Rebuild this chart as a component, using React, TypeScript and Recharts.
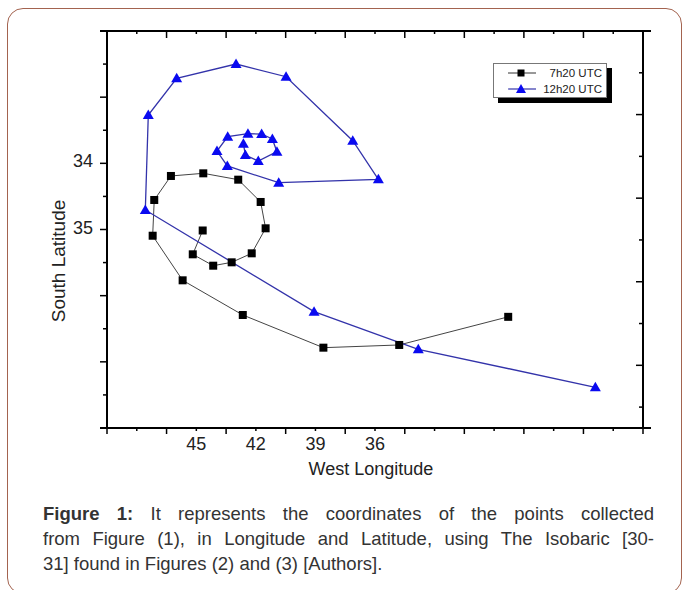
import { LineChart, Line, XAxis, YAxis } from "recharts";

const FONT = '"Liberation Sans", Arial, Helvetica, sans-serif';

// axis ticks (longitude runs right-to-left, latitude top-to-bottom)
const lonTicks = [49.5, 48, 46.5, 45, 43.5, 42, 40.5, 39, 37.5, 36, 34.5, 33, 31.5, 30, 28.5, 27, 25.5, 24, 22.5];
const lonLabels = [45, 42, 39, 36];
const latTicks = [32, 32.5, 33, 33.5, 34, 34.5, 35, 35.5, 36, 36.5, 37, 37.5, 38];
const latLabels = [34, 35];
const rightTicks = [1, 2, 3, 4, 5, 6, 7, 8, 9];

// 7h20 UTC track
const utc0720 = [
  { lon: 29.29, lat: 36.32 },
  { lon: 34.78, lat: 36.745 },
  { lon: 38.6, lat: 36.786 },
  { lon: 42.66, lat: 36.292 },
  { lon: 45.69, lat: 35.768 },
  { lon: 47.2, lat: 35.094 },
  { lon: 47.12, lat: 34.554 },
  { lon: 46.28, lat: 34.191 },
  { lon: 44.65, lat: 34.151 },
  { lon: 42.89, lat: 34.247 },
  { lon: 41.76, lat: 34.584 },
  { lon: 41.51, lat: 34.982 },
  { lon: 42.21, lat: 35.36 },
  { lon: 43.22, lat: 35.496 },
  { lon: 44.15, lat: 35.547 },
  { lon: 45.18, lat: 35.375 },
  { lon: 44.68, lat: 35.015 },
];

// 12h20 UTC track
const utc1220 = [
  { lon: 24.9, lat: 37.385 },
  { lon: 33.82, lat: 36.81 },
  { lon: 39.07, lat: 36.242 },
  { lon: 47.57, lat: 34.705 },
  { lon: 47.42, lat: 33.27 },
  { lon: 45.99, lat: 32.715 },
  { lon: 43.0, lat: 32.499 },
  { lon: 40.48, lat: 32.691 },
  { lon: 37.12, lat: 33.658 },
  { lon: 35.83, lat: 34.241 },
  { lon: 40.85, lat: 34.293 },
  { lon: 43.44, lat: 34.04 },
  { lon: 43.96, lat: 33.814 },
  { lon: 43.42, lat: 33.597 },
  { lon: 42.4, lat: 33.552 },
  { lon: 41.71, lat: 33.557 },
  { lon: 41.17, lat: 33.632 },
  { lon: 40.94, lat: 33.824 },
  { lon: 41.88, lat: 33.965 },
  { lon: 42.53, lat: 33.874 },
  { lon: 42.63, lat: 33.703 },
];

const isMajorLon = (v: number) => Math.abs(((49.5 - v) / 3) % 1) < 1e-6;

function BottomTick(p: any) {
  const { x, y, payload } = p;
  const v = payload.value;
  return (
    <g>
      <line x1={x} x2={x} y1={y} y2={y + (isMajorLon(v) ? 6 : 3)} stroke="#000" strokeWidth={1.5} />
      {v === 49.5 && <line x1={x - 7} x2={x} y1={y} y2={y} stroke="#000" strokeWidth={2} />}
      {v === 22.5 && <line x1={x} x2={x + 8} y1={y} y2={y} stroke="#000" strokeWidth={2} />}
      {lonLabels.includes(v) && (
        <text x={x} y={y + 22} textAnchor="middle" fontSize={18} fill="#222" fontFamily={FONT}>
          {v}
        </text>
      )}
    </g>
  );
}

function TopTick(p: any) {
  const { x, y, payload } = p;
  const v = payload.value;
  return (
    <g>
      <line x1={x} x2={x} y1={y} y2={y + (isMajorLon(v) ? 7 : 3)} stroke="#000" strokeWidth={1.5} />
      {v === 49.5 && <line x1={x - 7} x2={x} y1={y} y2={y} stroke="#000" strokeWidth={2} />}
      {v === 22.5 && <line x1={x} x2={x + 8} y1={y} y2={y} stroke="#000" strokeWidth={2} />}
    </g>
  );
}

function LeftTick(p: any) {
  const { x, y, payload } = p;
  const v = payload.value;
  const major = Number.isInteger(v);
  return (
    <g>
      <line x1={x - (major ? 7 : 4)} x2={x} y1={y} y2={y} stroke="#000" strokeWidth={1.5} />
      {latLabels.includes(v) && (
        <text x={x - 14} y={y + 4} textAnchor="end" fontSize={18} fill="#222" fontFamily={FONT}>
          {v}
        </text>
      )}
    </g>
  );
}

function RightTick(p: any) {
  const { x, y, payload } = p;
  const v = payload.value;
  return <line x1={x - (v % 2 === 0 ? 7 : 4)} x2={x} y1={y} y2={y} stroke="#000" strokeWidth={1.5} />;
}

function Square(p: any) {
  return <rect key={p.index} x={p.cx - 4} y={p.cy - 4} width={8} height={8} fill="#000" />;
}

function Triangle(p: any) {
  const { cx, cy } = p;
  return (
    <polygon
      key={p.index}
      points={`${cx},${cy - 5.5} ${cx - 5.5},${cy + 4} ${cx + 5.5},${cy + 4}`}
      fill="#0a0af0"
    />
  );
}

function LegendBox() {
  return (
    <div
      style={{
        position: "absolute",
        left: 493,
        top: 63,
        width: 114,
        height: 35,
        boxSizing: "border-box",
        border: "1px solid #777",
        background: "#fff",
        boxShadow: "5px 5px 0 #000",
      }}
    >
      <svg width={114} height={35} style={{ position: "absolute", left: -1, top: -1 }}>
        <line x1={15} x2={43} y1={10} y2={10} stroke="#333" strokeWidth={1} />
        <rect x={24.5} y={6.5} width={7} height={7} fill="#000" />
        <text x={109} y={14} textAnchor="end" fontSize={11.5} fill="#222" fontFamily={FONT}>
          7h20 UTC
        </text>
        <line x1={15} x2={43} y1={26} y2={26} stroke="#3333aa" strokeWidth={1.2} />
        <polygon points="28,21 23,30 33,30" fill="#0a0af0" />
        <text x={109} y={30} textAnchor="end" fontSize={11.5} fill="#222" fontFamily={FONT}>
          12h20 UTC
        </text>
      </svg>
    </div>
  );
}

const captionLine = {
  textAlign: "justify" as const,
  textAlignLast: "justify" as const,
  whiteSpace: "nowrap" as const,
};

export default function App() {
  return (
    <div
      style={{
        position: "absolute",
        left: 0,
        top: 0,
        width: 682,
        height: 590,
        background: "#fff",
        overflow: "hidden",
        fontFamily: FONT,
      }}
    >
      <div
        style={{
          position: "absolute",
          left: 7,
          top: 8,
          width: 675,
          height: 586,
          boxSizing: "border-box",
          border: "1.5px solid #a3634f",
          borderRadius: 16,
        }}
      />
      <div style={{ position: "absolute", left: 0, top: 0 }}>
        <LineChart width={682} height={480} margin={{ top: 21, right: 29, bottom: 22, left: 47 }}>
          <XAxis
            xAxisId={0}
            dataKey="lon"
            type="number"
            domain={[22.5, 49.5]}
            reversed
            allowDataOverflow
            ticks={lonTicks}
            interval={0}
            height={30}
            tickLine={false}
            tickSize={0}
            tickMargin={0}
            axisLine={{ stroke: "#000", strokeWidth: 2 }}
            tick={BottomTick}
            label={{
              content: (lp: any) => {
                const vb = lp.viewBox || {};
                return (
                  <text
                    x={vb.x + vb.width / 2 - 4}
                    y={vb.y + 47}
                    textAnchor="middle"
                    fontSize={18}
                    fill="#222"
                    fontFamily={FONT}
                  >
                    West Longitude
                  </text>
                );
              },
            }}
          />
          <XAxis
            xAxisId="top"
            orientation="top"
            dataKey="lon"
            type="number"
            domain={[22.5, 49.5]}
            reversed
            allowDataOverflow
            ticks={lonTicks}
            interval={0}
            height={10}
            tickLine={false}
            tickSize={0}
            tickMargin={0}
            axisLine={{ stroke: "#000", strokeWidth: 2 }}
            tick={TopTick}
          />
          <YAxis
            yAxisId={0}
            dataKey="lat"
            type="number"
            domain={[32, 38]}
            reversed
            allowDataOverflow
            ticks={latTicks}
            interval={0}
            width={60}
            tickLine={false}
            tickSize={0}
            tickMargin={0}
            axisLine={{ stroke: "#000", strokeWidth: 2 }}
            tick={LeftTick}
            label={{
              content: () => (
                <text
                  x={65}
                  y={261}
                  transform="rotate(-90, 65, 261)"
                  textAnchor="middle"
                  fontSize={19}
                  fill="#222"
                  fontFamily={FONT}
                >
                  South Latitude
                </text>
              ),
            }}
          />
          <YAxis
            yAxisId="right"
            orientation="right"
            type="number"
            domain={[0, 9.5]}
            reversed
            allowDataOverflow
            ticks={rightTicks}
            interval={0}
            width={10}
            tickLine={false}
            tickSize={0}
            tickMargin={0}
            axisLine={{ stroke: "#000", strokeWidth: 2 }}
            tick={RightTick}
          />
          <Line
            data={utc0720}
            dataKey="lat"
            type="linear"
            stroke="#444"
            strokeWidth={1}
            dot={Square}
            activeDot={false}
            isAnimationActive={false}
          />
          <Line
            data={utc1220}
            dataKey="lat"
            type="linear"
            stroke="#3333aa"
            strokeWidth={1.3}
            dot={Triangle}
            activeDot={false}
            isAnimationActive={false}
          />
        </LineChart>
      </div>
      <LegendBox />
      <div
        style={{
          position: "absolute",
          left: 43,
          top: 501,
          width: 611,
          fontSize: 18.5,
          lineHeight: "25px",
          color: "#333",
        }}
      >
        <div style={captionLine}>
          <b>Figure 1:</b> It represents the coordinates of the points collected
        </div>
        <div style={captionLine}>from Figure (1), in Longitude and Latitude, using The Isobaric [30-</div>
        <div>31] found in Figures (2) and (3) [Authors].</div>
      </div>
    </div>
  );
}
